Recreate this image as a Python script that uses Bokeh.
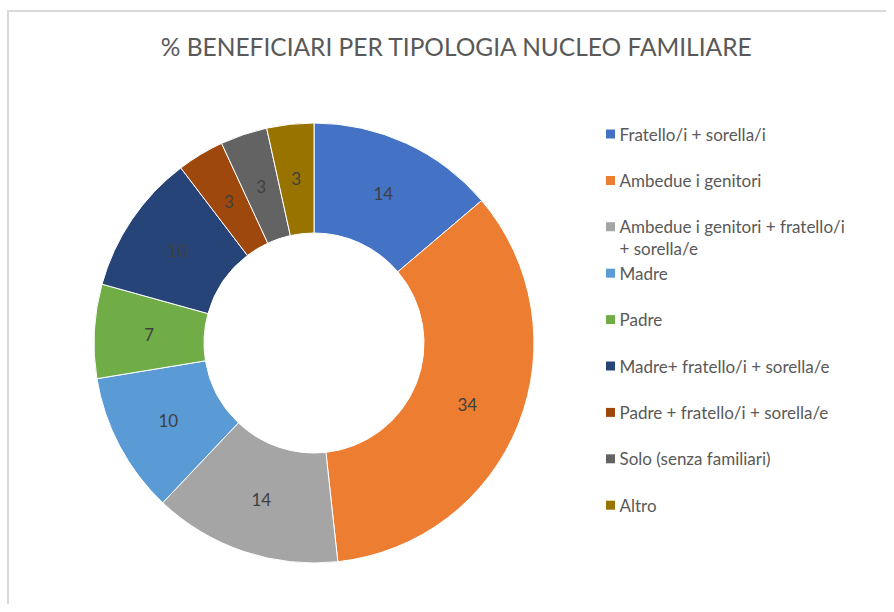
import math
from bokeh.plotting import figure
from bokeh.models import Range1d, ColumnDataSource
from bokeh.core.properties import value
from bokeh.embed import file_html
from bokeh.resources import INLINE

title_text = "% BENEFICIARI PER TIPOLOGIA NUCLEO FAMILIARE"
categories = [
    "Fratello/i + sorella/i",
    "Ambedue i genitori",
    "Ambedue i genitori + fratello/i\n+ sorella/e",
    "Madre",
    "Padre",
    "Madre+ fratello/i + sorella/e",
    "Padre + fratello/i + sorella/e",
    "Solo (senza familiari)",
    "Altro",
]
# percentages (slice sizes; labels shown rounded)
values = [13.79, 34.48, 13.79, 10.34, 6.90, 10.34, 3.45, 3.45, 3.45]
colors = ["#4472C4", "#ED7D31", "#A5A5A5", "#5B9BD5", "#70AD47",
          "#264478", "#9E480E", "#636363", "#997300"]

W, H = 886, 604
FONT = "Lato"

p = figure(width=W, height=H, output_backend="svg", toolbar_location=None,
           x_range=Range1d(0, W), y_range=Range1d(0, H),
           x_axis_location=None, y_axis_location=None, min_border=0,
           tools="")
p.grid.visible = False
p.outline_line_color = None
p.background_fill_color = "white"

# chart border (top and left)
top_y = H - 10.5
p.segment(x0=[6.5, 7.5], y0=[top_y, top_y + 1], x1=[W, 7.5], y1=[top_y, 0],
          line_color="#d9d9d9", line_width=2)

# donut
cx, cy = 313.5, H - 342.5
r_in, r_out = 110, 220
total = sum(values)
starts, ends, mids = [], [], []
cum = 0
for v in values:
    a0 = math.pi / 2 - cum / total * 2 * math.pi
    cum += v
    a1 = math.pi / 2 - cum / total * 2 * math.pi
    starts.append(a0)
    ends.append(a1)
    mids.append((a0 + a1) / 2)

src = ColumnDataSource(dict(
    x=[cx] * len(values), y=[cy] * len(values),
    start=starts, end=ends, color=colors,
    lx=[cx + (r_in + r_out) / 2 * math.cos(m) for m in mids],
    ly=[cy + (r_in + r_out) / 2 * math.sin(m) for m in mids],
    lab=["%.0f" % v for v in values],
))
p.annular_wedge(x="x", y="y", inner_radius=r_in, outer_radius=r_out,
                start_angle="start", end_angle="end", direction="clock",
                fill_color="color", line_color="white", line_width=1, source=src)
p.text(x="lx", y="ly", text="lab", source=src, text_align="center",
       text_baseline="middle", text_font=value(FONT), text_font_size="17px",
       text_color="#404040")

# title
p.text(x=[456.5], y=[H - 46], text=[title_text], text_align="center", text_baseline="middle",
       text_font=value(FONT), text_font_size="24.5px", text_color="#595959")

# legend
leg_x, leg_y0, leg_dy = 610, H - 133.5, 46.4
sq_x, sq_y, tx, ty, tl = [], [], [], [], []
for i, cat in enumerate(categories):
    y = leg_y0 - i * leg_dy
    sq_x.append(leg_x)
    sq_y.append(y)
    for j, line in enumerate(cat.split("\n")):
        tx.append(leg_x + 9)
        ty.append(y - j * 22)
        tl.append(line)
p.rect(x=sq_x, y=sq_y, width=9, height=9, width_units="screen", height_units="screen",
       fill_color=colors, line_color=None)
p.text(x=tx, y=ty, text=tl, text_align="left", text_baseline="middle",
       text_font=value(FONT), text_font_size="17px", text_color="#595959")

open("out.html", "w").write(file_html(p, INLINE))
